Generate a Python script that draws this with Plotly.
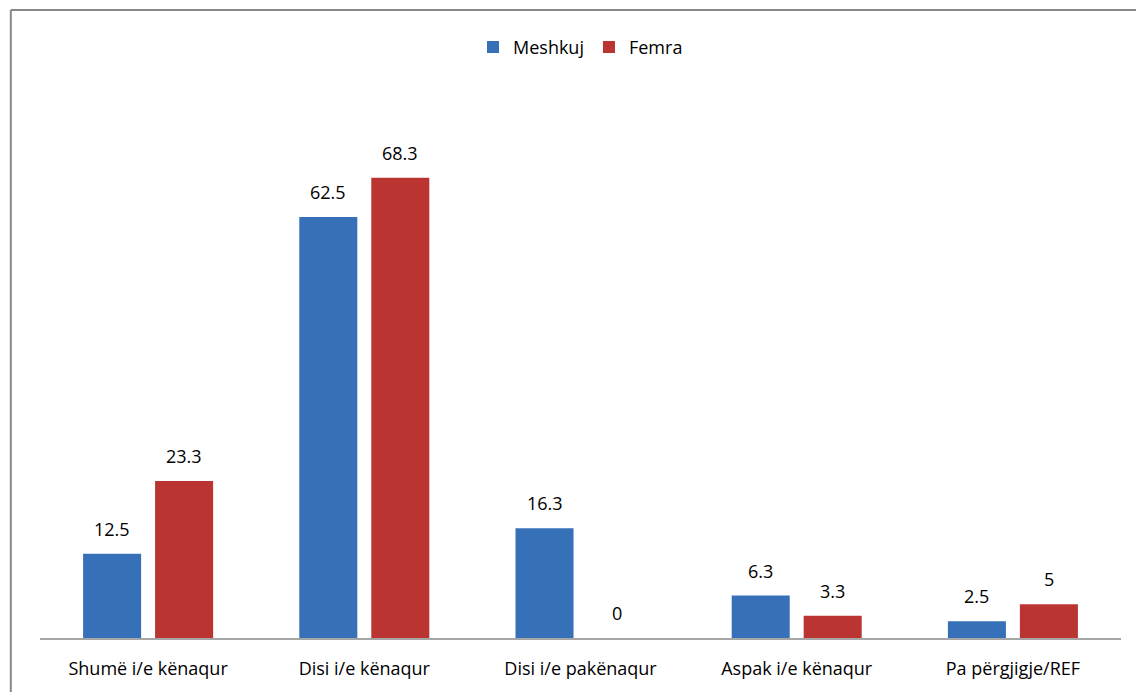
import plotly.graph_objects as go

# Satisfaction levels by gender (%)
categories = ["Shumë i/e kënaqur", "Disi i/e kënaqur", "Disi i/e pakënaqur",
              "Aspak i/e kënaqur", "Pa përgjigje/REF"]
meshkuj = [12.5, 62.5, 16.3, 6.3, 2.5]
femra = [23.3, 68.3, 0, 3.3, 5]

series = [
    ("Meshkuj", meshkuj, "#3670B9", -36),
    ("Femra", femra, "#BA3431", 36),
]

FONT = "Open Sans, Calibri, Carlito, sans-serif"
FSIZE = 18

fig = go.Figure()
for name, vals, color, _ in series:
    fig.add_trace(go.Bar(
        name=name, x=categories, y=vals,
        marker=dict(color=color, line=dict(width=0)),
    ))

# value labels above each bar
annotations = []
for name, vals, color, dx in series:
    for cat, v in zip(categories, vals):
        annotations.append(dict(
            x=cat, y=v, xref="x", yref="y", text=f"{v:g}",
            showarrow=False, xshift=dx, yshift=25,
            yanchor="middle", xanchor="center",
            font=dict(family=FONT, size=FSIZE, color="#000000"),
        ))

fig.update_layout(
    width=1136, height=692,
    margin=dict(l=40, r=15, t=99, b=48),
    paper_bgcolor="white", plot_bgcolor="white",
    barmode="group", bargap=0.334, bargroupgap=0.194,
    font=dict(family=FONT, size=FSIZE, color="#000000"),
    showlegend=True,
    legend=dict(orientation="h", x=0.5, xanchor="center", xref="paper",
                y=1.096, yref="paper", yanchor="middle",
                bgcolor="rgba(0,0,0,0)",
                font=dict(family=FONT, size=FSIZE, color="#000000"),
                itemwidth=30, traceorder="normal"),
    annotations=annotations,
    shapes=[
        # chart frame (top edge)
        dict(type="line", xref="paper", yref="paper", x0=-0.027, x1=1.02,
             y0=1.165, y1=1.165, line=dict(color="#878787", width=2)),
        # chart frame (left edge)
        dict(type="line", xref="paper", yref="paper", x0=-0.027, x1=-0.027,
             y0=-0.2, y1=1.165, line=dict(color="#878787", width=2)),
    ],
)
fig.update_xaxes(showgrid=False, showline=True, linecolor="#A6A6A6", linewidth=2,
                 ticks="outside", ticklen=13, tickcolor="rgba(0,0,0,0)",
                 tickfont=dict(family=FONT, size=FSIZE, color="#000000"))
fig.update_yaxes(range=[0, 80], visible=False, showgrid=False)

fig.write_html("out.html")
